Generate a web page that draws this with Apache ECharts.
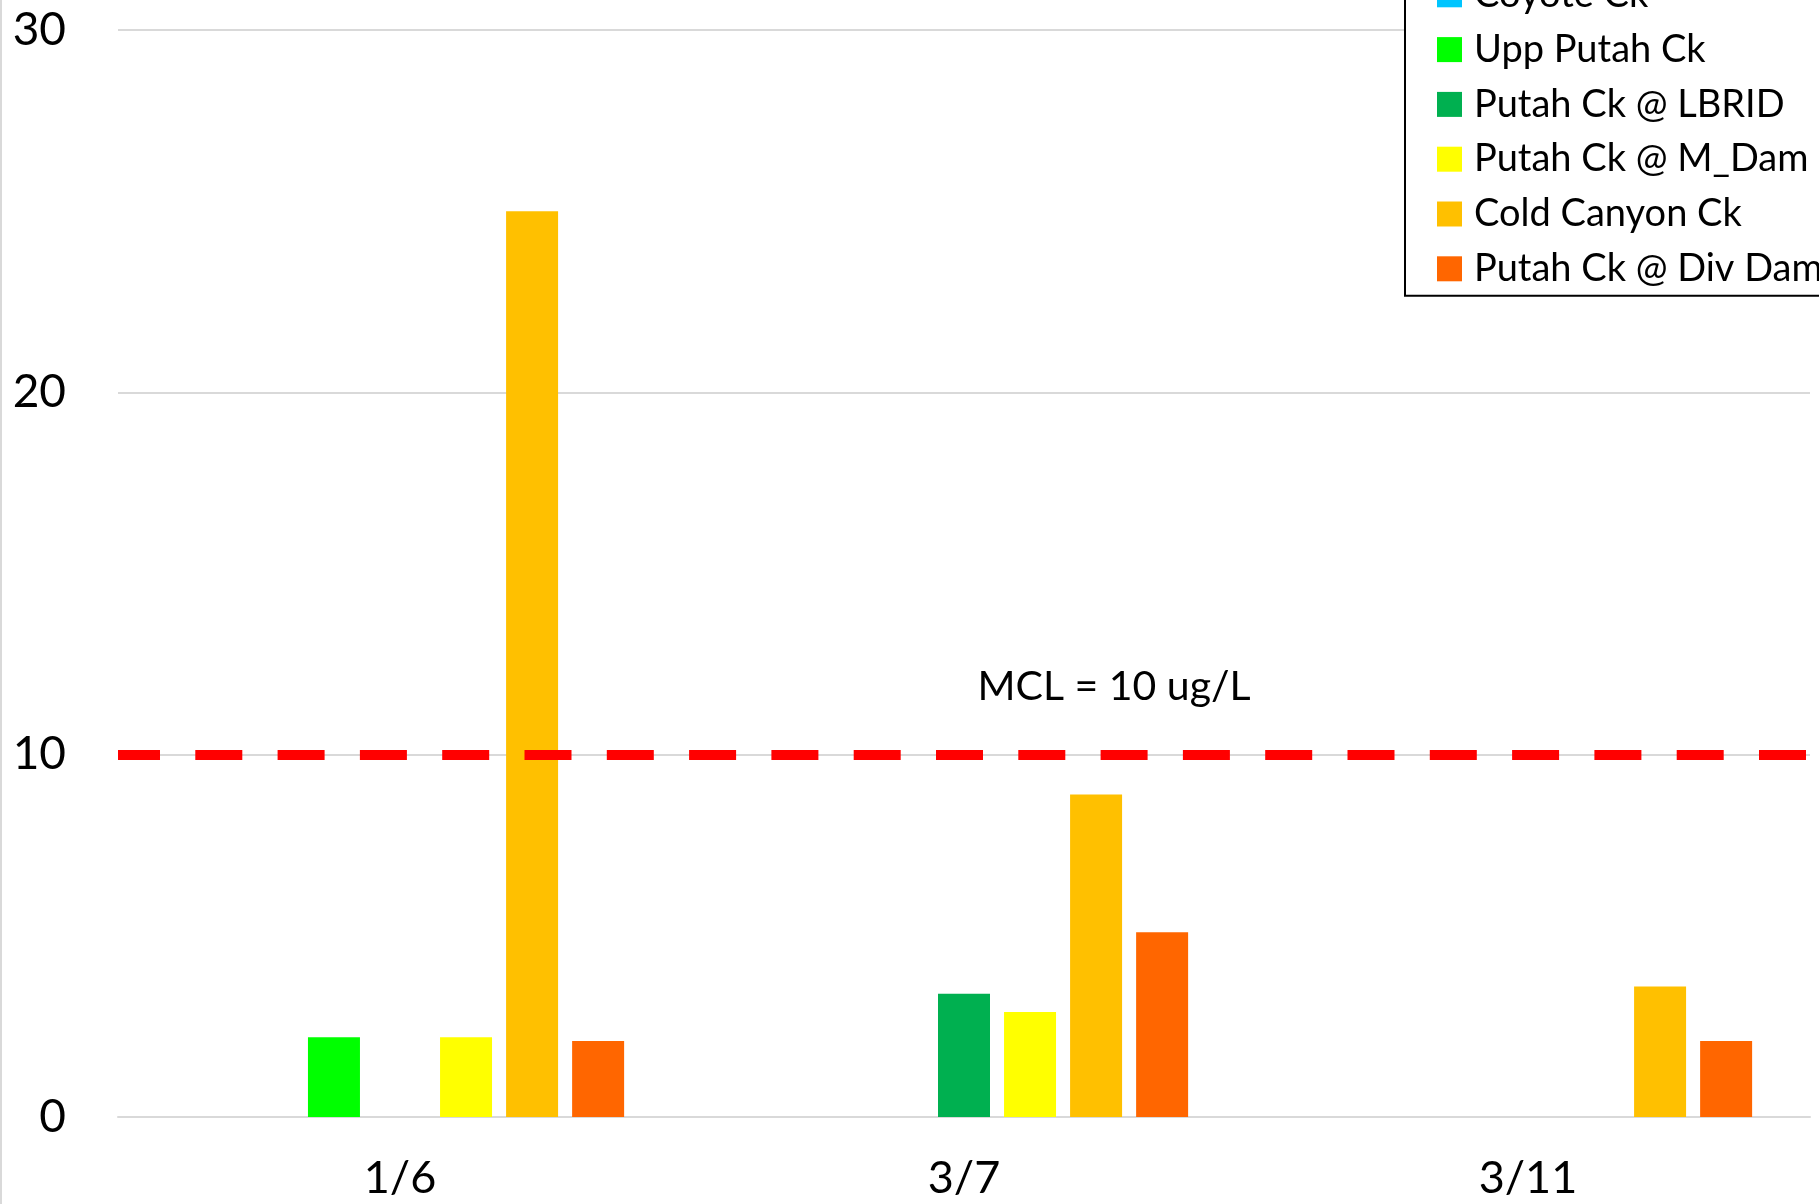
<!DOCTYPE html>
<html>
<head>
<meta charset="utf-8">
<script src="https://cdn.jsdelivr.net/npm/echarts@6/dist/echarts.min.js"></script>
<style>
html,body{margin:0;padding:0;background:#fff;}
#chart{width:1819px;height:1204px;}
</style>
</head>
<body>
<div id="chart"></div>
<script>
const categories = ['1/6', '3/7', '3/11'];
const seriesNames = ['Series 1', 'Coyote Ck', 'Upp Putah Ck', 'Putah Ck @ LBRID', 'Putah Ck @ M_Dam', 'Cold Canyon Ck', 'Putah Ck @ Div Dam'];
const seriesColors = ['#4472C4', '#00C5FF', '#00FF00', '#00B050', '#FFFF00', '#FFC000', '#FF6600'];
const series1 = [null, null, null];
const coyoteCk = [null, null, null];
const uppPutahCk = [2.2, null, null];
const putahLBRID = [null, 3.4, null];
const putahMDam = [2.2, 2.9, null];
const coldCanyonCk = [25, 8.9, 3.6];
const putahDivDam = [2.1, 5.1, 2.1];
const seriesValues = [series1, coyoteCk, uppPutahCk, putahLBRID, putahMDam, coldCanyonCk, putahDivDam];
const yTicks = [0, 10, 20, 30];
const mclValue = 10;
const mclLabel = 'MCL = 10 ug/L';

const FONT = 'Lato';
const chart = echarts.init(document.getElementById('chart'), null, {renderer: 'canvas'});

const series = seriesNames.map((name, i) => {
  const s = {
    name: name,
    type: 'bar',
    data: seriesValues[i],
    barWidth: 52,
    barGap: '27%',
    itemStyle: {color: seriesColors[i]},
    emphasis: {disabled: true},
    animation: false
  };
  if (i === seriesNames.length - 1) {
    s.markLine = {
      silent: true,
      symbol: ['none', 'none'],
      animation: false,
      lineStyle: {color: '#FF0000', width: 10, type: [47, 35.3], dashOffset: 5, cap: 'butt'},
      label: {
        show: true,
        position: 'middle',
        formatter: mclLabel,
        distance: 47,
        offset: [150, 0],
        color: '#000',
        fontFamily: FONT,
        fontSize: 41
      },
      data: [{yAxis: mclValue}]
    };
  }
  return s;
});

chart.setOption({
  animation: false,
  backgroundColor: '#fff',
  grid: {left: 118, right: 9, top: 30, bottom: 87},
  legend: {
    orient: 'vertical',
    left: 1405,
    top: -90,
    data: seriesNames,
    icon: 'rect',
    itemWidth: 25,
    itemHeight: 25,
    itemGap: 14.8,
    padding: [10, 20, 7, 32],
    backgroundColor: '#fff',
    borderColor: '#000',
    borderWidth: 2,
    borderRadius: 0,
    selectedMode: false,
    textStyle: {color: '#000', fontFamily: FONT, fontSize: 38, lineHeight: 40, padding: [0, 0, 0, 7]}
  },
  xAxis: {
    type: 'category',
    data: categories,
    axisLine: {show: true, lineStyle: {color: '#D9D9D9', width: 2}},
    axisTick: {show: false},
    axisLabel: {color: '#000', fontFamily: FONT, fontSize: 45, lineHeight: 46, margin: 38}
  },
  yAxis: {
    type: 'value',
    min: yTicks[0],
    max: yTicks[yTicks.length - 1],
    interval: yTicks[1] - yTicks[0],
    axisLine: {show: false},
    axisTick: {show: false},
    splitLine: {lineStyle: {color: '#D9D9D9', width: 2}},
    axisLabel: {color: '#000', fontFamily: FONT, fontSize: 46, margin: 52}
  },
  graphic: [{
    type: 'rect',
    left: 0,
    top: 0,
    shape: {width: 2, height: 1204},
    style: {fill: '#D9D9D9'},
    silent: true
  }],
  series: series
});
</script>
</body>
</html>
